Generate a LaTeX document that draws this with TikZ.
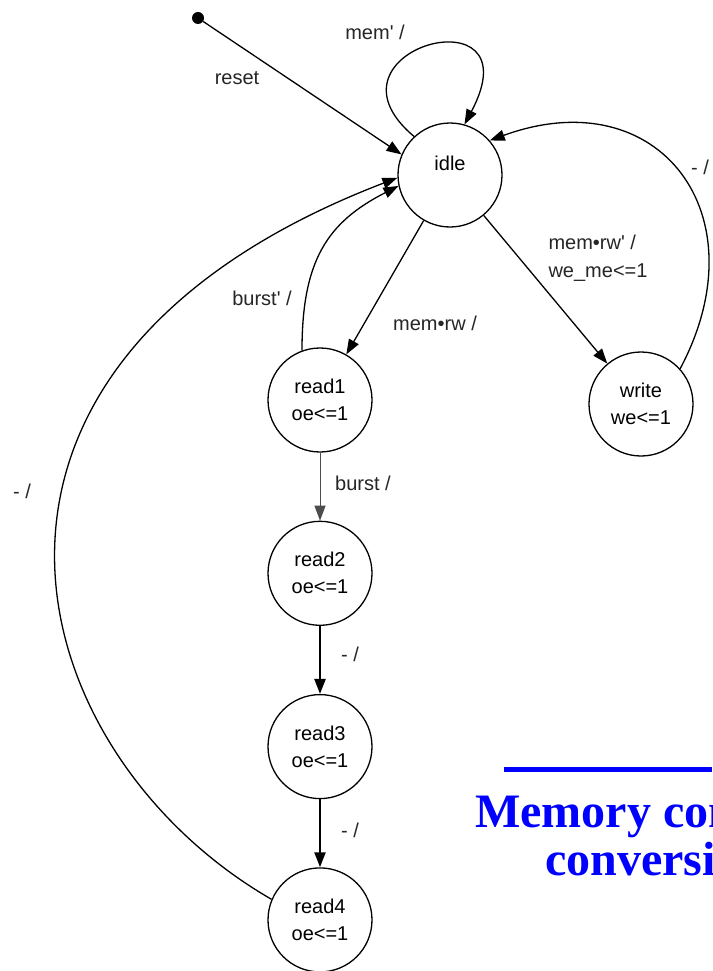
\documentclass[tikz,border=0pt]{standalone}
\usepackage{fontspec}
\setmainfont{Liberation Sans}
\newfontfamily\titlefont{Liberation Serif}
\usepackage{tikz}
\usetikzlibrary{positioning}
\usetikzlibrary{arrows.meta}

\begin{document}
\begin{tikzpicture}[x=1pt,y=1pt]
		\tikzset{edge/.style = {-{Triangle[length=15pt,width=11pt]}, line width=1.3pt}}
		\tikzset{state/.style = {draw, circle, line width=1.3pt, minimum size=104pt, inner sep=0pt, align=center, font=\fontsize{20}{27}\selectfont}}
		\tikzset{lbl/.style = {font=\fontsize{20}{28}\selectfont, text=black!85, align=left}}
		\useasboundingbox (0,0) rectangle (712,-971);
		\clip (0,0) rectangle (712,-971);
		\fill[white] (0,0) rectangle (712,-971);
		% states
		\node[circle, fill, minimum size=12pt, inner sep=0pt] (S) at (198,-18) {};
		\node[state, text height=14pt, text depth=24pt] (I) at (450,-175) {idle};
		\node[state] (R1) at (320,-400) {read1\\oe<=1};
		\node[state, below=68pt of R1] (R2) {read2\\oe<=1};
		\node[state, below=68pt of R2] (R3) {read3\\oe<=1};
		\node[state, below=68pt of R3] (R4) {read4\\oe<=1};
		\node[state] (W) at (641,-404) {write\\we<=1};
		% transitions
		\draw[edge] (S) -- (I.157);
		\draw[edge] (I.133) to[out=140, in=62, out distance=136pt, in distance=154pt] (I.74);
		\draw[edge] (I) -- (R1);
		\draw[edge] (I) -- (W);
		\draw[edge] (R1.110) to[out=90, in=207, out distance=90pt, in distance=80pt] (I.192);
		\draw[edge] (R4.157) to[out=150, in=201, out distance=294pt, in distance=522pt] (I.183);
		\draw[edge] (W.42) to[out=62, in=20, out distance=175pt, in distance=180pt] (I.41);
		\draw[edge, line width=1pt, draw=black!70] (R1) -- (R2);
		\draw[edge, line width=2.4pt] (R2) -- (R3);
		\draw[edge, line width=2.4pt] (R3) -- (R4);
		% labels
		\node[lbl] (Lreset) at (237,-78) {reset};
		\node[lbl] (Lidle) at (375,-32) {mem\textquotesingle\ /};
		\node[lbl] (Lread) at (435,-323) {mem•rw /};
		\node[lbl] (Lburst) at (262,-298) {burst\textquotesingle\ /};
		\node[lbl, anchor=west] (Lwrite) at (545,-258) {mem•rw\textquotesingle\ /\\we\_me<=1};
		\node[lbl] (Lback) at (700,-167) {- /};
		\node[lbl] (Lret) at (22,-491) {- /};
		\node[lbl] (Lr12) at (363,-483) {burst /};
		\node[lbl] (Lr23) at (350,-654) {- /};
		\node[lbl] (Lr34) at (350,-830) {- /};
		% title
		\draw[blue, line width=5pt] (504,-769) -- (712,-769);
		\node[anchor=base west, inner sep=0pt, text=blue, font=\titlefont\bfseries\fontsize{48}{48}\selectfont] (T1) at (475,-827) {Memory con};
		\node[anchor=base west, inner sep=0pt, text=blue, font=\titlefont\bfseries\fontsize{48}{48}\selectfont] (T2) at (545,-875) {conversi};
	\end{tikzpicture}
\end{document}
